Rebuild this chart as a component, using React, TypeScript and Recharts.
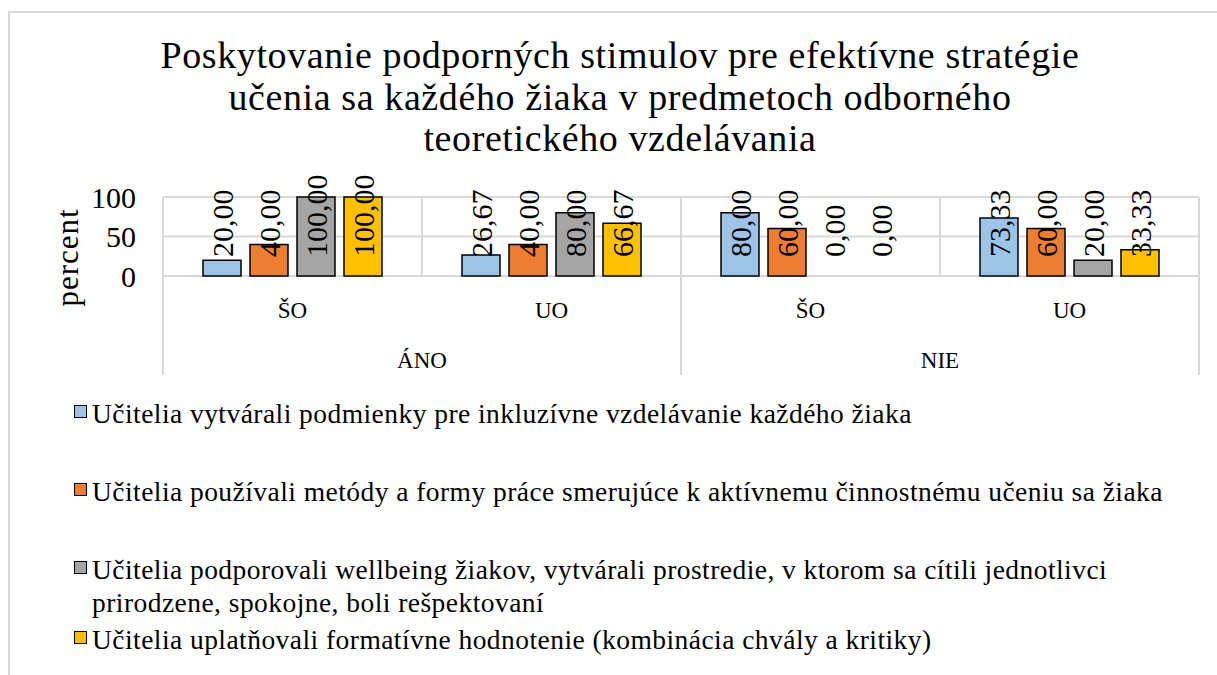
import { BarChart, Bar, XAxis, YAxis, CartesianGrid, LabelList, Legend, Rectangle } from "recharts";

const FONT = "'Liberation Serif', 'Times New Roman', serif";

const titleLines = [
  "Poskytovanie podporných stimulov pre efektívne stratégie",
  "učenia sa každého žiaka v predmetoch odborného",
  "teoretického vzdelávania",
];

const groups = ["ÁNO", "NIE"];
const subs = ["ŠO", "UO"];

const seriesNames = [
  "Učitelia vytvárali podmienky pre inkluzívne vzdelávanie každého žiaka",
  "Učitelia používali metódy a formy práce smerujúce k aktívnemu činnostnému učeniu sa žiaka",
  "Učitelia podporovali wellbeing žiakov, vytvárali prostredie, v ktorom sa cítili jednotlivci prirodzene, spokojne, boli rešpektovaní",
  "Učitelia uplatňovali formatívne hodnotenie (kombinácia chvály a kritiky)",
];

// order: ÁNO-ŠO, ÁNO-UO, NIE-ŠO, NIE-UO
const inclusive = [20, 26.67, 80, 73.33];
const methods = [40, 40, 60, 60];
const wellbeing = [100, 80, 0, 20];
const formative = [100, 66.67, 0, 33.33];

const yTicks = [0, 50, 100];

const COLORS = ["#9DC3E6", "#ED7D31", "#A5A5A5", "#FFC000"];
const GRID = "#d9d9d9";

const PLOT_TOP = 197;
const AXIS_DEPTH = 99; // how far the group separators run below the plot

const data = groups.flatMap((g, gi) =>
  subs.map((s, si) => {
    const i = gi * subs.length + si;
    return {
      group: g,
      sub: s,
      s1: inclusive[i],
      s2: methods[i],
      s3: wellbeing[i],
      s4: formative[i],
    };
  })
);

// vertical lines on category boundaries (every `step` categories)
const boundaryGen = (step: number) => (args: any) => {
  const left = args?.offset?.left ?? 0;
  const w = args?.offset?.width ?? 0;
  const out: number[] = [];
  for (let i = 0; i <= data.length; i += step) out.push(left + (w * i) / data.length);
  return out;
};
const catGrid = boundaryGen(1);
const groupGrid = boundaryGen(subs.length);

const catTick = { fontSize: 23, fontFamily: FONT, fill: "#000" };
const valTick = { fontSize: 30, fontFamily: FONT, fill: "#000" };

const fmt = (v: number) => v.toFixed(2).replace(".", ",");

const renderValueLabel = (props: any) => {
  const { x, y, width, height, value } = props;
  const cx = Number(x) + Number(width) / 2;
  const base = Number(y) + Number(height) - 19;
  return (
    <text
      x={cx}
      y={base}
      transform={`rotate(-90 ${cx} ${base})`}
      textAnchor="start"
      dominantBaseline="central"
      fontSize={30}
      fontFamily={FONT}
      fill="#000"
    >
      {fmt(Number(value))}
    </text>
  );
};

// zero bars get a hair of height so their labels are kept, but are not drawn
const BarShape = (props: any) => {
  if (Math.abs(props.height) < 0.5) return <g />;
  return <Rectangle {...props} />;
};
const zeroMin = (v: any) => (Number(v) === 0 ? 0.01 : 0);

const YLabel = (props: any) => {
  const { viewBox } = props;
  const x = viewBox.x + 67;
  const y = viewBox.y + viewBox.height / 2 + 21;
  return (
    <text
      x={x}
      y={y}
      transform={`rotate(-90 ${x} ${y})`}
      textAnchor="middle"
      dominantBaseline="central"
      fontSize={31}
      letterSpacing={1}
      fontFamily={FONT}
      fill="#000"
    >
      percent
    </text>
  );
};

const renderLegend = (props: any) => {
  const { payload } = props;
  return (
    <div
      style={{
        fontFamily: FONT,
        fontSize: 27.5,
        letterSpacing: 0.45,
        lineHeight: "33px",
        color: "#000",
      }}
    >
      {payload.map((entry: any, i: number) => (
        <div
          key={`leg-${i}`}
          style={{ display: "flex", alignItems: "flex-start", marginBottom: i < 2 ? 45 : 4 }}
        >
          <div
            style={{
              width: 11,
              height: 11,
              marginTop: 8,
              marginRight: 5,
              background: entry.color,
              border: "1.5px solid #000",
              flexShrink: 0,
            }}
          />
          <span style={{ maxWidth: 1080 }}>{entry.value}</span>
        </div>
      ))}
    </div>
  );
};

export default function App() {
  const plotHeight = 79;
  return (
    <div
      style={{
        position: "absolute",
        left: 0,
        top: 0,
        width: 1217,
        height: 675,
        overflow: "hidden",
        background: "#fff",
      }}
    >
      <div
        style={{
          position: "absolute",
          left: 8,
          top: 11,
          width: 1300,
          height: 700,
          border: `2px solid ${GRID}`,
        }}
      />
      <div
        style={{
          position: "absolute",
          left: 0,
          top: 35,
          width: 1240,
          textAlign: "center",
          fontFamily: FONT,
          fontSize: 38,
          letterSpacing: 0.6,
          lineHeight: "41.5px",
          color: "#000",
        }}
      >
        {titleLines.map((l, i) => (
          <div key={i}>{l}</div>
        ))}
      </div>
      <div style={{ position: "absolute", left: 0, top: 0 }}>
        <BarChart
          width={1217}
          height={675}
          data={data}
          margin={{ top: PLOT_TOP, right: 18, bottom: 675 - PLOT_TOP - plotHeight - 0.02, left: 0 }}
          barCategoryGap={40}
          barGap={9}
        >
          <CartesianGrid
            stroke={GRID}
            strokeWidth={2}
            vertical
            horizontal
            verticalCoordinatesGenerator={catGrid}
          />
          <CartesianGrid
            stroke={GRID}
            strokeWidth={2}
            vertical
            horizontal={false}
            y={PLOT_TOP}
            height={plotHeight + AXIS_DEPTH}
            verticalCoordinatesGenerator={groupGrid}
          />
          <XAxis
            xAxisId="sub"
            dataKey="sub"
            interval={0}
            height={0.01}
            axisLine={false}
            tickLine={false}
            tickSize={0}
            tickMargin={26}
            tick={catTick}
          />
          <XAxis
            xAxisId="grp"
            dataKey="group"
            allowDuplicatedCategory={false}
            interval={0}
            height={0.01}
            axisLine={false}
            tickLine={false}
            tickSize={0}
            tickMargin={76}
            tick={catTick}
          />
          <YAxis
            width={163}
            domain={[0, 100]}
            ticks={yTicks}
            interval={0}
            axisLine={false}
            tickLine={false}
            tickSize={0}
            tickMargin={27}
            tick={valTick}
            label={<YLabel />}
          />
          {["s1", "s2", "s3", "s4"].map((k, i) => (
            <Bar
              key={k}
              xAxisId="sub"
              dataKey={k}
              name={seriesNames[i]}
              fill={COLORS[i]}
              stroke="#000"
              strokeWidth={1.5}
              minPointSize={zeroMin}
              shape={BarShape}
              isAnimationActive={false}
            >
              <LabelList dataKey={k} content={renderValueLabel} />
            </Bar>
          ))}
          <Legend
            layout="horizontal"
            verticalAlign="middle"
            align="center"
            itemSorter="dataKey"
            content={renderLegend}
            wrapperStyle={{ left: 74, top: 397, width: 1130 }}
          />
        </BarChart>
      </div>
    </div>
  );
}
